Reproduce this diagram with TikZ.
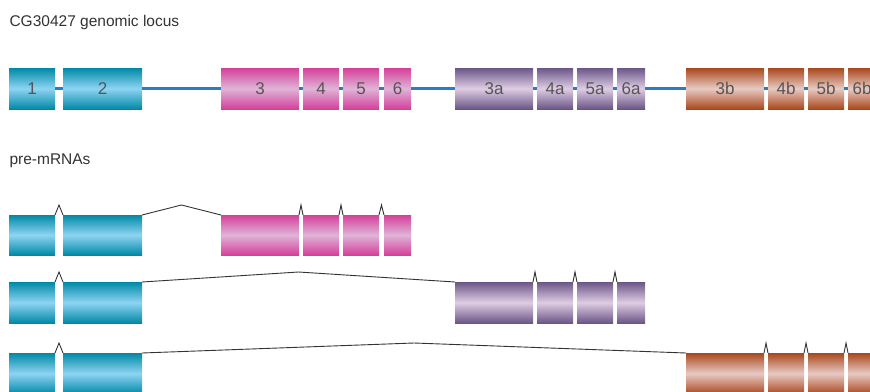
\documentclass[tikz,border=0pt]{standalone}
\usepackage{fontspec}
\setmainfont{Liberation Sans}
\usepackage{xcolor}
\usetikzlibrary{positioning,calc}

\definecolor{cyandark}{HTML}{0089A6}
\definecolor{cyanlight}{HTML}{8ED4F3}
\definecolor{pinkdark}{HTML}{D5409A}
\definecolor{pinklight}{HTML}{DFB4D8}
\definecolor{purpdark}{HTML}{6A5687}
\definecolor{purplight}{HTML}{DFCDE3}
\definecolor{orngdark}{HTML}{A9481C}
\definecolor{ornglight}{HTML}{E8CAC4}
\definecolor{locusblue}{HTML}{2A7CC6}
\definecolor{labelgray}{HTML}{555555}

\begin{document}
\begin{tikzpicture}[
      x=1pt, y=-1pt,
      exon/.style={minimum height=41pt, inner sep=0pt, outer sep=0pt, anchor=north west,
        font=\fontsize{17}{17}\selectfont, text=labelgray},
      cyanx/.style={exon, top color=cyandark, bottom color=cyandark, middle color=cyanlight},
      pinkx/.style={exon, top color=pinkdark, bottom color=pinkdark, middle color=pinklight},
      purpx/.style={exon, top color=purpdark, bottom color=purpdark, middle color=purplight},
      orngx/.style={exon, top color=orngdark, bottom color=orngdark, middle color=ornglight},
      locus/.style={draw=locusblue, line width=3.5pt},
      splice/.style={draw=black!80, line width=0.9pt},
      heading/.style={anchor=west, font=\fontsize{15.5}{15.5}\selectfont, text=black!80},
    ]
      \useasboundingbox (0,0) rectangle (870,391);

      % genomic locus
      \node[heading] (title) at (6,22) {CG30427 genomic locus};
      \node[cyanx, minimum width=46pt] (g1) at (9,68) {1};
      \node[cyanx, minimum width=79pt, right=8pt of g1] (g2) {2};
      \node[pinkx, minimum width=78pt] (g3) at (221,68) {3};
      \node[pinkx, minimum width=36pt, right=4pt of g3] (g4) {4};
      \node[pinkx, minimum width=36pt, right=4pt of g4] (g5) {5};
      \node[pinkx, minimum width=27pt, right=5pt of g5] (g6) {6};
      \node[purpx, minimum width=78pt] (g3a) at (455,68) {3a};
      \node[purpx, minimum width=36pt, right=4pt of g3a] (g4a) {4a};
      \node[purpx, minimum width=36pt, right=4pt of g4a] (g5a) {5a};
      \node[purpx, minimum width=28pt, right=4pt of g5a] (g6a) {6a};
      \node[orngx, minimum width=78pt] (g3b) at (686,68) {3b};
      \node[orngx, minimum width=36pt, right=4pt of g3b] (g4b) {4b};
      \node[orngx, minimum width=36pt, right=4pt of g4b] (g5b) {5b};
      \node[orngx, minimum width=28pt, right=4pt of g5b] (g6b) {6b};
      \foreach \a/\b in {g1/g2, g2/g3, g3/g4, g4/g5, g5/g6, g6/g3a, g3a/g4a, g4a/g5a,
          g5a/g6a, g6a/g3b, g3b/g4b, g4b/g5b, g5b/g6b}
        \draw[locus] (\a.east) -- (\b.west);

      % pre-mRNAs
      \node[heading] (pre) at (6,161) {pre-mRNAs};

      \node[cyanx, minimum width=46pt, minimum height=40pt] (p1) at (9,215) {};
      \node[cyanx, minimum width=79pt, minimum height=40pt, right=8pt of p1] (p2) {};
      \node[pinkx, minimum width=78pt, minimum height=40pt] (p3) at (221,215) {};
      \node[pinkx, minimum width=36pt, minimum height=40pt, right=4pt of p3] (p4) {};
      \node[pinkx, minimum width=36pt, minimum height=40pt, right=4pt of p4] (p5) {};
      \node[pinkx, minimum width=27pt, minimum height=40pt, right=5pt of p5] (p6) {};

      \node[cyanx, minimum width=46pt] (q1) at (9,282) {};
      \node[cyanx, minimum width=79pt, right=8pt of q1] (q2) {};
      \node[purpx, minimum width=78pt] (q3a) at (455,282) {};
      \node[purpx, minimum width=36pt, right=4pt of q3a] (q4a) {};
      \node[purpx, minimum width=36pt, right=4pt of q4a] (q5a) {};
      \node[purpx, minimum width=28pt, right=4pt of q5a] (q6a) {};

      \node[cyanx, minimum width=46pt] (r1) at (9,353) {};
      \node[cyanx, minimum width=79pt, right=8pt of r1] (r2) {};
      \node[orngx, minimum width=78pt] (r3b) at (686,353) {};
      \node[orngx, minimum width=36pt, right=4pt of r3b] (r4b) {};
      \node[orngx, minimum width=36pt, right=4pt of r4b] (r5b) {};
      \node[orngx, minimum width=28pt, right=4pt of r5b] (r6b) {};

      \foreach \a/\b in {p1/p2, p2/p3, p3/p4, p4/p5, p5/p6, q1/q2, q2/q3a, q3a/q4a,
          q4a/q5a, q5a/q6a, r1/r2, r2/r3b, r3b/r4b, r4b/r5b, r5b/r6b}
        \draw[splice] (\a.north east)
          -- ($(\a.north east)!0.5!(\b.north west)+(0,-10)$) -- (\b.north west);
    \end{tikzpicture}
\end{document}
